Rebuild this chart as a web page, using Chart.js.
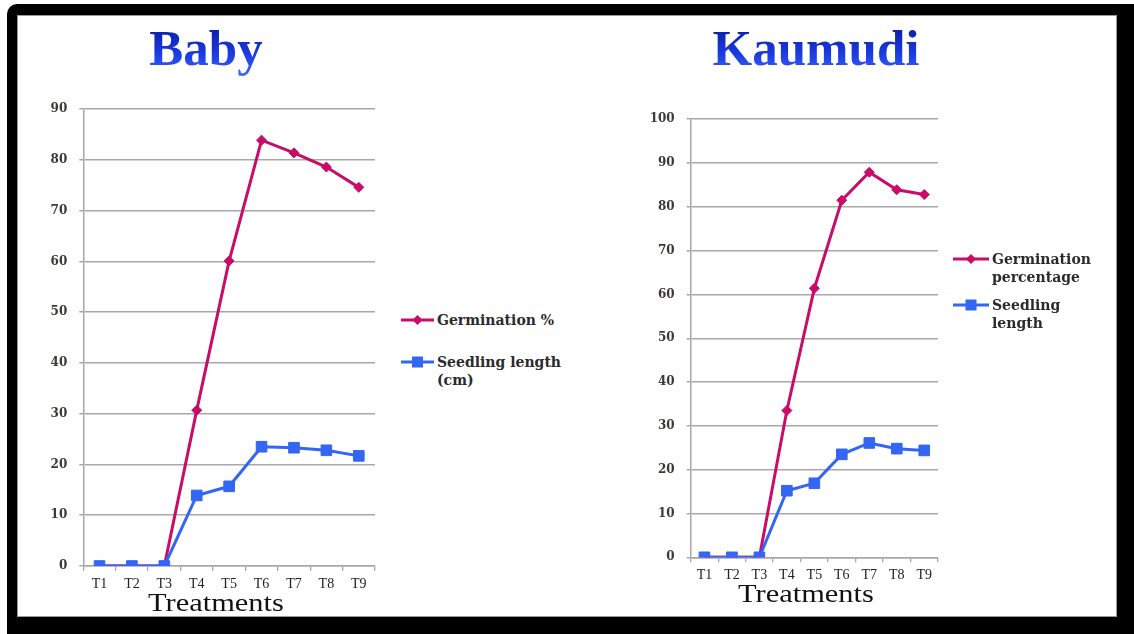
<!DOCTYPE html>
<html>
<head>
<meta charset="utf-8">
<title>Baby / Kaumudi – germination and seedling length</title>
<script src="https://cdn.jsdelivr.net/npm/chart.js@4.4.1/dist/chart.umd.min.js"></script>
<style>
  html, body { margin: 0; padding: 0; background: #ffffff; }
  body { width: 1134px; height: 634px; position: relative; overflow: hidden; }
  .frame {
    position: absolute; left: 7px; top: 4px; width: 1127px; height: 630px;
    box-sizing: border-box; border-style: solid; border-color: #000;
    border-width: 11px 17px 17px 10px; border-top-left-radius: 10px;
    box-shadow: inset 0 0 0 1px #9a9a9a;
  }
  .title {
    position: absolute; top: 20px; font-family: "Liberation Serif", serif; font-weight: bold;
    font-size: 51px; line-height: 56px; white-space: nowrap; transform: translateX(-50%);
    background: linear-gradient(#0f1ea6 15%, #1a3be0 60%, #3d66ff 100%);
    -webkit-background-clip: text; background-clip: text; color: transparent;
  }
  .axis-title {
    position: absolute; font-family: "Liberation Serif", serif; font-size: 26px; line-height: 30px;
    color: #111; white-space: nowrap; transform: translateX(-50%) scaleX(1.17);
  }
  .box { position: absolute; }
  .box canvas { display: block; }
  .legend { position: absolute; font-family: "DejaVu Serif", serif; font-weight: bold; font-size: 14px;
            color: #2b2b2b; line-height: 18px; }
  .legend .item { position: absolute; white-space: nowrap; }
  .legend svg { position: absolute; left: 0; top: 3px; }
  .legend span { position: absolute; top: 0; }
</style>
</head>
<body>
<div class="frame"></div>

<div class="title" style="left:206px">Baby</div>
<div class="title" style="left:816px">Kaumudi</div>

<div class="box" style="left:30px; top:90px"><canvas id="babyChart" width="360" height="528"></canvas></div>
<div class="box" style="left:630px; top:100px"><canvas id="kaumudiChart" width="330" height="518"></canvas></div>

<div class="axis-title" style="left:216px; top:588px">Treatments</div>
<div class="axis-title" style="left:806px; top:579px">Treatments</div>

<div class="legend" id="babyLegend" style="left:401px; top:311px"></div>
<div class="legend" id="kaumudiLegend" style="left:953px; top:250px"></div>

<script>
// Treatments along the x axis
const categories = ['T1', 'T2', 'T3', 'T4', 'T5', 'T6', 'T7', 'T8', 'T9'];

// Baby variety
const babyGermination = [0, 0, 0, 30.7, 60.1, 83.9, 81.4, 78.6, 74.6];
const babySeedling    = [0, 0, 0, 13.9, 15.7, 23.5, 23.3, 22.8, 21.7];

// Kaumudi variety
const kaumudiGermination = [0, 0, 0, 33.5, 61.4, 81.5, 87.9, 83.9, 82.8];
const kaumudiSeedling    = [0, 0, 0, 15.2, 16.9, 23.5, 26.1, 24.8, 24.4];

// Value axis ranges
const babyAxisMax = 90;
const kaumudiAxisMax = 100;
const axisStep = 10;

const PINK = '#c80c68';
const BLUE = '#3366f5';
const GRID = '#a8a8a8';

function makeChart(id, germ, seed, yMax, geom) {
  const ctx = document.getElementById(id);
  return new Chart(ctx, {
    type: 'line',
    data: {
      labels: categories,
      datasets: [
        {
          label: 'Germination',
          data: germ,
          borderColor: PINK, backgroundColor: PINK,
          borderWidth: 3, pointStyle: 'rectRot', pointRadius: 5,
          pointBorderWidth: 1, tension: 0, order: 1
        },
        {
          label: 'Seedling length',
          data: seed,
          borderColor: BLUE, backgroundColor: BLUE,
          borderWidth: 3, pointStyle: 'rect', pointRadius: 7.5,
          pointBorderWidth: 1, tension: 0, order: 0
        }
      ]
    },
    options: {
      responsive: false,
      maintainAspectRatio: false,
      animation: false,
      devicePixelRatio: 1,
      layout: { padding: { top: geom.top, right: geom.right, left: 0, bottom: 0 } },
      plugins: { legend: { display: false }, tooltip: { enabled: false }, title: { display: false } },
      scales: {
        x: {
          offset: true,
          grid: { display: true, drawOnChartArea: false, drawTicks: true, tickLength: 5,
                  color: GRID, lineWidth: 1.3, offset: true },
          border: { display: true, color: GRID, width: 1.5 },
          ticks: { color: '#222', padding: 5, font: { family: 'Liberation Serif', size: 14 } },
          afterFit: (s) => { s.height = geom.xHeight; }
        },
        y: {
          min: 0, max: yMax,
          grid: { color: GRID, lineWidth: 1.5, tickLength: 4 },
          border: { display: true, color: GRID, width: 1.5 },
          ticks: { stepSize: axisStep, color: '#3c3a36', padding: 12,
                   font: { family: 'DejaVu Serif', size: 12, weight: 'bold' } },
          afterFit: (s) => { s.width = geom.yWidth; }
        }
      }
    }
  });
}

makeChart('babyChart', babyGermination, babySeedling, babyAxisMax,
  { top: 17, right: 15, yWidth: 53.3, xHeight: 52 });
makeChart('kaumudiChart', kaumudiGermination, kaumudiSeedling, kaumudiAxisMax,
  { top: 15, right: 22, yWidth: 60.7, xHeight: 60.7 });

// Legends: line sample with the series marker, followed by the series name
function legendSample(color, shape, width) {
  const mid = width / 2;
  const marker = shape === 'diamond'
    ? `<polygon points="${mid - 5},6 ${mid},1 ${mid + 5},6 ${mid},11" fill="${color}"/>`
    : `<rect x="${mid - 5.5}" y="0.5" width="11" height="11" fill="${color}"/>`;
  return `<svg width="${width}" height="12"><line x1="0" y1="6" x2="${width}" y2="6" stroke="${color}" stroke-width="3"/>${marker}</svg>`;
}

function buildLegend(id, items, sampleWidth) {
  const el = document.getElementById(id);
  el.innerHTML = items.map(it =>
    `<div class="item" style="top:${it.top}px">${legendSample(it.color, it.shape, sampleWidth)}` +
    `<span style="left:${sampleWidth + 3}px">${it.lines.join('<br>')}</span></div>`
  ).join('');
}

buildLegend('babyLegend', [
  { top: 0,  color: PINK, shape: 'diamond', lines: ['Germination %'] },
  { top: 42, color: BLUE, shape: 'square',  lines: ['Seedling length', '(cm)'] }
], 33);

buildLegend('kaumudiLegend', [
  { top: 0,  color: PINK, shape: 'diamond', lines: ['Germination', 'percentage'] },
  { top: 46, color: BLUE, shape: 'square',  lines: ['Seedling', 'length'] }
], 36);
</script>
</body>
</html>
